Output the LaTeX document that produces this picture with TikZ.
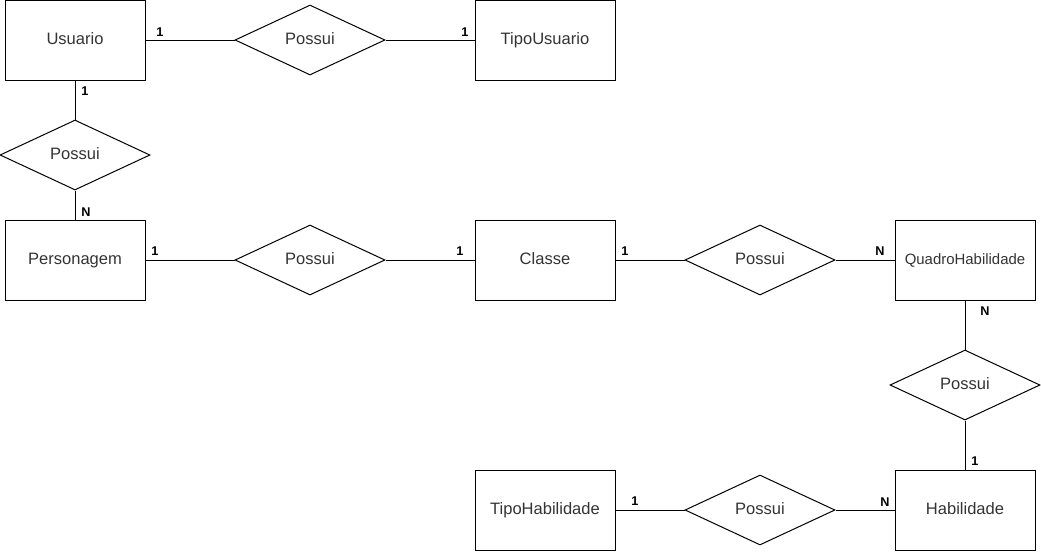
\documentclass[tikz,border=0pt]{standalone}
\usepackage{fontspec}
\setmainfont{Liberation Sans}
\usetikzlibrary{shapes.geometric}

\tikzset{
  entidade/.style={draw, line width=0.75pt, minimum width=105pt, minimum height=60pt,
    inner sep=0pt, text height=0.72em, text depth=0pt, text=black!80, font=\fontsize{12.4}{14}\selectfont},
  relacao/.style={draw, diamond, line width=0.75pt, minimum width=112.5pt, minimum height=52.5pt,
    inner sep=0pt, text height=0.72em, text depth=0pt, text=black!80, font=\fontsize{12.4}{14}\selectfont},
  card/.style={font=\fontsize{9.5}{11}\selectfont\bfseries, inner sep=0pt},
  liga/.style={line width=0.75pt}
}

\begin{document}
\begin{tikzpicture}[x=0.75pt, y=-0.75pt]
\useasboundingbox (0,0) rectangle (1041,551);

\node[entidade] (usuario) at (75,40) {Usuario};
\node[entidade] (tipousuario) at (545,40) {TipoUsuario};
\node[entidade] (personagem) at (75,260) {Personagem};
\node[entidade] (classe) at (545,260) {Classe};
\node[entidade, font=\fontsize{11.2}{13}\selectfont] (quadro) at (965,260) {QuadroHabilidade};
\node[entidade] (habilidade) at (965,510) {Habilidade};
\node[entidade] (tipohabilidade) at (545,510) {TipoHabilidade};

\node[relacao] (r1) at (310,40) {Possui};
\node[relacao] (r2) at (75,155) {Possui};
\node[relacao] (r3) at (310,260) {Possui};
\node[relacao] (r4) at (760,260) {Possui};
\node[relacao] (r5) at (965,385) {Possui};
\node[relacao] (r6) at (760,510) {Possui};

\draw[liga] (usuario.east) -- (r1.west);
\draw[liga] (r1.east) -- (tipousuario.west);
\draw[liga] (usuario.south) -- (r2.north);
\draw[liga] (r2.south) -- (personagem.north);
\draw[liga] (personagem.east) -- (r3.west);
\draw[liga] (r3.east) -- (classe.west);
\draw[liga] (classe.east) -- (r4.west);
\draw[liga] (r4.east) -- (quadro.west);
\draw[liga] (quadro.south) -- (r5.north);
\draw[liga] (r5.south) -- (habilidade.north);
\draw[liga] (habilidade.west) -- (r6.east);
\draw[liga] (r6.west) -- (tipohabilidade.east);

\node[card] (c1) at (160,32) {1};
\node[card] (c2) at (465,32) {1};
\node[card] (c3) at (85,91) {1};
\node[card] (c4) at (86,212) {N};
\node[card] (c5) at (155,251) {1};
\node[card] (c6) at (460,251) {1};
\node[card] (c7) at (625,251) {1};
\node[card] (c8) at (880,251) {N};
\node[card] (c9) at (985,311) {N};
\node[card] (c10) at (975,461) {1};
\node[card] (c11) at (885,502) {N};
\node[card] (c12) at (635,501) {1};
\end{tikzpicture}
\end{document}
